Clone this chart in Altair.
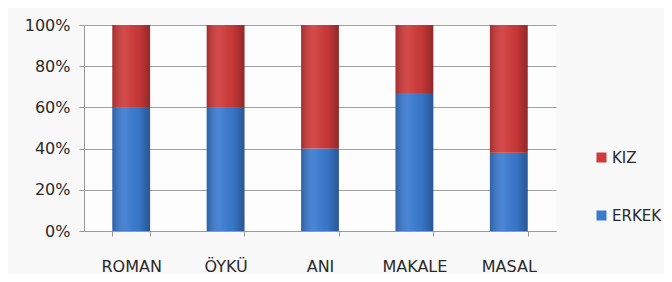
import altair as alt
import pandas as pd

categories = ["ROMAN", "ÖYKÜ", "ANI", "MAKALE", "MASAL"]
erkek = [60, 60, 40, 67, 38]
kiz = [40, 40, 60, 33, 62]
series = ["KIZ", "ERKEK"]
colors = ["#d03a3a", "#3a7bd2"]

rows = []
for c, e, k in zip(categories, erkek, kiz):
    rows.append({"tur": c, "grup": "ERKEK", "deger": e / 100, "ord": 0})
    rows.append({"tur": c, "grup": "KIZ", "deger": k / 100, "ord": 1})
df = pd.DataFrame(rows)

font = "DejaVu Sans"

xenc = alt.X("tur:N", sort=categories, title=None,
             scale=alt.Scale(paddingInner=0.6, paddingOuter=0.3),
             axis=alt.Axis(labelAngle=0, labelFont=font, labelFontSize=16,
                           labelColor="#2a2a2a", labelPadding=22,
                           tickBand="extent", tickSize=5, tickColor="#999999",
                           domainColor="#999999", grid=False))

bars = alt.Chart(df).mark_bar().encode(
    x=xenc,
    y=alt.Y("deger:Q", stack="zero", title=None,
            scale=alt.Scale(domain=[0, 1]),
            axis=alt.Axis(format="%", values=[0, 0.2, 0.4, 0.6, 0.8, 1.0],
                          labelFont=font, labelFontSize=16, labelColor="#2a2a2a",
                          labelPadding=9, tickSize=5, tickColor="#999999",
                          domainColor="#999999", gridColor="#a0a0a0",
                          gridWidth=1)),
    color=alt.Color("grup:N", scale=alt.Scale(domain=series, range=colors),
                    legend=alt.Legend(title=None, orient="none", legendX=510,
                                      legendY=125, symbolType="square",
                                      symbolSize=100, symbolStrokeWidth=0,
                                      labelFont=font, labelFontSize=15,
                                      labelColor="#2a2a2a", rowPadding=42,
                                      labelOffset=3)),
    order=alt.Order("ord:Q", sort="ascending"),
)

shade = alt.Chart(df).mark_bar(
    fill=alt.Gradient(
        gradient="linear", x1=0, x2=1, y1=0, y2=0,
        stops=[
            alt.GradientStop(color="rgba(0,0,0,0.22)", offset=0),
            alt.GradientStop(color="rgba(255,255,255,0.08)", offset=0.35),
            alt.GradientStop(color="rgba(0,0,0,0.05)", offset=0.7),
            alt.GradientStop(color="rgba(0,0,0,0.3)", offset=1),
        ],
    )
).encode(
    x=xenc,
    y=alt.Y("sum(deger):Q", stack=None),
)

chart = alt.layer(bars, shade).properties(
    width=472, height=206,
    autosize=alt.AutoSizeParams(type="none"),
    padding={"left": 76, "top": 17, "right": 108, "bottom": 43},
    background="#f8f8f8",
).configure_view(strokeWidth=0, fill="#fdfdfd")

chart.save("out.html", embed_options={"renderer": "svg", "actions": False})
